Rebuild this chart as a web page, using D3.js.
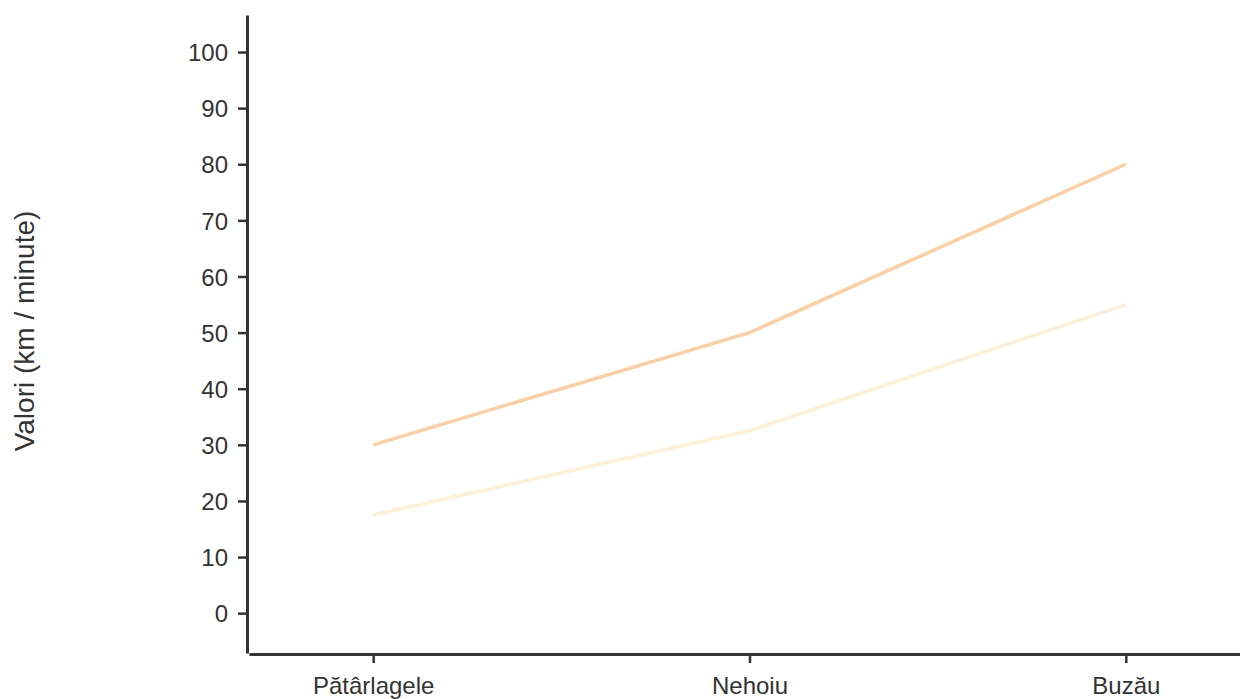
<!DOCTYPE html>
<html>
<head>
<meta charset="utf-8">
<script src="https://cdn.jsdelivr.net/npm/d3@7"></script>
<style>
  html, body { margin: 0; padding: 0; background: #fff; }
  svg { display: block; }
  .axis text { font-family: "Liberation Sans", Arial, sans-serif; font-size: 24px; fill: #333; }
  .axis path, .axis line { stroke: #333; }
</style>
</head>
<body>
<svg id="chart" width="1240" height="699"></svg>
<script>
const categories = ["Pătârlagele", "Nehoiu", "Buzău"];
const seriesUpper = [30, 50, 80];
const seriesLower = [17.5, 32.5, 55];
const yTicks = [0, 10, 20, 30, 40, 50, 60, 70, 80, 90, 100];
const yLabel = "Valori (km / minute)";
const colors = ["#fdcfa0", "#fff0d6"];

const svg = d3.select("#chart");

const x = d3.scalePoint().domain(categories).range([249, 1250]).padding(0.33);
const y = d3.scaleLinear().domain([-7.1, 106.6]).range([653, 15]);

// y axis
const gy = svg.append("g").attr("class", "axis").attr("transform", "translate(247,0)")
  .call(d3.axisLeft(y).tickValues(yTicks).tickSize(9).tickSizeOuter(0).tickPadding(10));
gy.select(".domain").attr("stroke-width", 3);
gy.selectAll(".tick line").attr("stroke-width", 2.5);
gy.selectAll(".tick text").attr("dy", "0.36em");

// x axis
const gx = svg.append("g").attr("class", "axis").attr("transform", "translate(0,654)")
  .call(d3.axisBottom(x).tickSize(9).tickSizeOuter(0).tickPadding(14));
gx.select(".domain").attr("stroke-width", 3);
gx.selectAll(".tick line").attr("stroke-width", 2.5);

// y label
svg.append("text")
  .attr("transform", "translate(34,331) rotate(-90)")
  .attr("text-anchor", "middle")
  .attr("font-family", "Liberation Sans, Arial, sans-serif")
  .attr("font-size", 28)
  .attr("fill", "#333")
  .text(yLabel);

const line = d3.line()
  .x((d, i) => x(categories[i]))
  .y(d => y(d));

[seriesLower, seriesUpper].forEach((s, k) => {
  svg.append("path")
    .datum(s)
    .attr("fill", "none")
    .attr("stroke", k === 1 ? colors[0] : colors[1])
    .attr("stroke-width", 3.5)
    .attr("stroke-linejoin", "round")
    .attr("d", line);
});
</script>
</body>
</html>
